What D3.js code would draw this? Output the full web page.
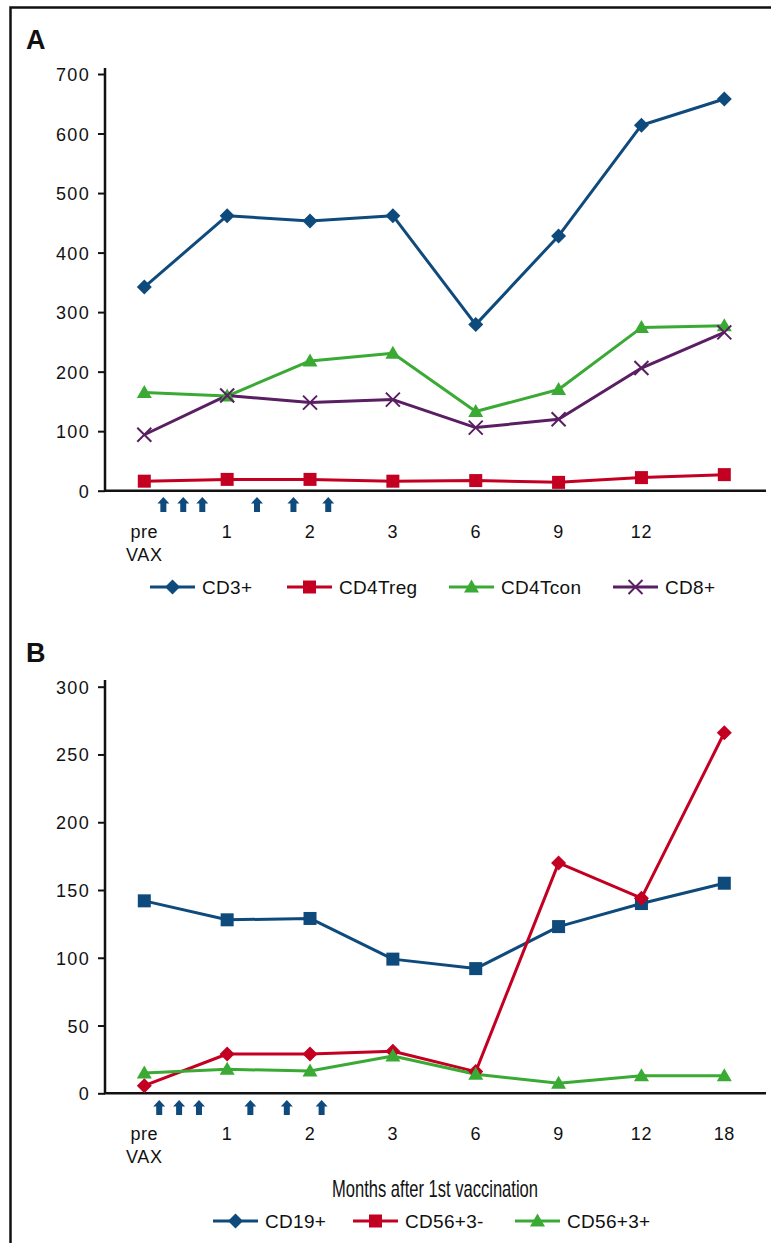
<!DOCTYPE html>
<html><head><meta charset="utf-8">
<script src="https://cdn.jsdelivr.net/npm/d3@7"></script>
<style>
html,body{margin:0;padding:0;background:#fff;}
svg{display:block;}
text{font-family:"Liberation Sans",Arial,Helvetica,sans-serif;fill:#111;}
</style></head>
<body>
<svg id="chart" width="771" height="1243"></svg>
<script>
// ---- data ----
const categoriesA = ["pre", "1", "2", "3", "6", "9", "12", "18"];
const tickLabelsA = [["pre","VAX"], ["1"], ["2"], ["3"], ["6"], ["9"], ["12"], [""]];
const tickLabelsB = [["pre","VAX"], ["1"], ["2"], ["3"], ["6"], ["9"], ["12"], ["18"]];
const yTicksA = [0, 100, 200, 300, 400, 500, 600, 700];
const yTicksB = [0, 50, 100, 150, 200, 250, 300];

const cd3 =     [342, 462, 453, 462, 279, 428, 614, 658];
const cd4treg = [16, 19, 19, 16, 17, 14, 22, 27];
const cd4tcon = [165, 159, 218, 231, 133, 170, 274, 277];
const cd8 =     [94, 160, 148, 153, 106, 120, 206, 266];

const cd19 =    [142, 128, 129, 99, 92, 123, 140, 155];
const cd56m =   [5.6, 29, 29, 31, 16, 170, 144, 266];
const cd56p =   [15, 17.7, 16.5, 27.5, 14, 7.4, 13, 13];

// vaccination arrows, in units of category index
const arrowsA = [0.23, 0.47, 0.70, 1.36, 1.80, 2.22];
const arrowsB = [0.18, 0.42, 0.66, 1.28, 1.72, 2.14];

const xTitle = "Months after 1st vaccination";

const BLUE = "#0f4a7c", RED = "#c40022", GREEN = "#3aaa35", PURPLE = "#5a1e63";

const seriesA = [
  {name:"CD3+", values:cd3, color:BLUE, marker:"diamond", legendMarker:"diamond"},
  {name:"CD4Treg", values:cd4treg, color:RED, marker:"square", legendMarker:"square"},
  {name:"CD4Tcon", values:cd4tcon, color:GREEN, marker:"triangle", legendMarker:"triangle"},
  {name:"CD8+", values:cd8, color:PURPLE, marker:"x", legendMarker:"x"}
];
const seriesB = [
  {name:"CD19+", values:cd19, color:BLUE, marker:"square", legendMarker:"diamond"},
  {name:"CD56+3-", values:cd56m, color:RED, marker:"diamond", legendMarker:"square"},
  {name:"CD56+3+", values:cd56p, color:GREEN, marker:"triangle", legendMarker:"triangle"}
];

const svg = d3.select("#chart");

// outer frame
svg.append("path").attr("d","M10.5,1243 L10.5,7.5 L771,7.5")
  .attr("fill","none").attr("stroke","#111").attr("stroke-width",2.5);

function drawMarker(g, type, x, y, color){
  if(type==="diamond"){
    g.append("path").attr("d",`M${x},${y-7.5}L${x+7.5},${y}L${x},${y+7.5}L${x-7.5},${y}Z`).attr("fill",color);
  } else if(type==="square"){
    g.append("rect").attr("x",x-6.5).attr("y",y-6.5).attr("width",13).attr("height",13).attr("fill",color);
  } else if(type==="triangle"){
    g.append("path").attr("d",`M${x},${y-7.5}L${x+7.5},${y+5.5}L${x-7.5},${y+5.5}Z`).attr("fill",color);
  } else if(type==="x"){
    g.append("path").attr("d",`M${x-7},${y-7}L${x+7},${y+7}M${x+7},${y-7}L${x-7},${y+7}`)
      .attr("stroke",color).attr("stroke-width",2).attr("fill","none");
  }
}

function panel(opt){
  const g = svg.append("g");
  const x = d3.scalePoint().domain(categoriesA).range([144.3, 724.3]);
  const y = d3.scaleLinear().domain([0, opt.yMax]).range([opt.y0, opt.yTop]);

  // panel letter
  g.append("text").attr("x",26).attr("y",opt.letterY).text(opt.letter)
    .style("font-size","27px").style("font-weight","bold").style("font-family","Liberation Sans, Arial, sans-serif");

  // y axis
  const yAxis = d3.axisLeft(y).tickValues(opt.yTicks).tickSize(7).tickPadding(8).tickFormat(d3.format("d"));
  const ya = g.append("g").attr("transform","translate(105,0)").call(yAxis);
  ya.select(".domain").attr("d",`M0,${opt.axisTop}V${opt.y0}`).attr("stroke","#111").attr("stroke-width",2.5);
  ya.selectAll(".tick line").attr("stroke","#111").attr("stroke-width",2);
  ya.selectAll(".tick text").style("font-size","18px").style("letter-spacing","1.3px")
    .style("font-family","Liberation Sans, Arial, sans-serif").attr("fill","#111").attr("dy","0.36em");

  // x axis line
  g.append("line").attr("x1",104).attr("x2",766).attr("y1",opt.y0).attr("y2",opt.y0)
    .attr("stroke","#111").attr("stroke-width",2.5);

  // x tick labels
  categoriesA.forEach((c,i)=>{
    const lines = opt.tickLabels[i];
    lines.forEach((t,j)=>{
      g.append("text").attr("x",x(c)).attr("y",opt.tickLabelY + j*23).attr("text-anchor","middle")
        .style("font-size","18px").style("letter-spacing","0.6px").text(t);
    });
  });

  // arrows
  const ax = d3.scaleLinear().domain([0, categoriesA.length-1]).range([x(categoriesA[0]), x(categoriesA[categoriesA.length-1])]);
  opt.arrows.forEach(a=>{
    const cx = ax(a), ty = opt.arrowY;
    g.append("path").attr("d",
      `M${cx},${ty}L${cx+6},${ty+6.5}L${cx+3},${ty+6.5}L${cx+3},${ty+15}L${cx-3},${ty+15}L${cx-3},${ty+6.5}L${cx-6},${ty+6.5}Z`)
      .attr("fill",BLUE);
  });

  // lines
  const line = d3.line().x((d,i)=>x(categoriesA[i])).y(d=>y(d));
  opt.series.forEach(s=>{
    g.append("path").datum(s.values).attr("d",line).attr("fill","none")
      .attr("stroke",s.color).attr("stroke-width",3).attr("stroke-linejoin","round");
  });
  opt.series.forEach(s=>{
    s.values.forEach((v,i)=>drawMarker(g, s.marker, x(categoriesA[i]), y(v), s.color));
  });

  // legend
  opt.series.forEach((s,i)=>{
    const lx = opt.legendX[i], ly = opt.legendY;
    g.append("line").attr("x1",lx).attr("x2",lx+45).attr("y1",ly).attr("y2",ly)
      .attr("stroke",s.color).attr("stroke-width",3);
    drawMarker(g, s.legendMarker, lx+22.5, ly, s.color);
    g.append("text").attr("x",lx+52).attr("y",ly).attr("dy","0.36em")
      .style("font-size","19px").style("letter-spacing","0.3px").text(s.name);
  });
  return g;
}

panel({letter:"A", letterY:49, yMax:700, y0:490.7, yTop:74, axisTop:68, yTicks:yTicksA,
  tickLabels:tickLabelsA, tickLabelY:538, arrows:arrowsA, arrowY:497,
  series:seriesA, legendX:[150, 287, 449, 613], legendY:587});

panel({letter:"B", letterY:662, yMax:300, y0:1093.3, yTop:686.7, axisTop:680, yTicks:yTicksB,
  tickLabels:tickLabelsB, tickLabelY:1140, arrows:arrowsB, arrowY:1100,
  series:seriesB, legendX:[213, 353, 515], legendY:1221});

// x axis title
svg.append("text").attr("x",435).attr("y",1197).attr("text-anchor","middle")
  .style("font-family","Liberation Sans Narrow, Arial Narrow, Liberation Sans, Arial, sans-serif")
  .style("font-size","24px")
  .attr("textLength",206).attr("lengthAdjust","spacingAndGlyphs")
  .text(xTitle);
</script>
</body></html>
